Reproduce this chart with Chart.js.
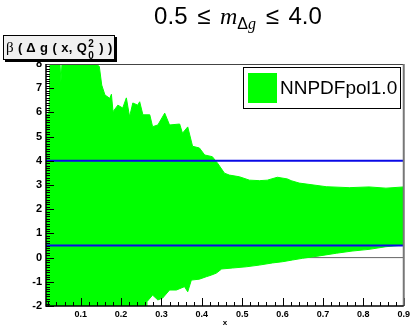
<!DOCTYPE html>
<html>
<head>
<meta charset="utf-8">
<script src="https://cdn.jsdelivr.net/npm/chart.js@4"></script>
<style>
  body { margin: 0; background: #fff; }
  #wrap { position: relative; width: 413px; height: 328px; }
  #title {
    position: absolute; left: 238px; top: 2px; transform: translateX(-50%);
    font: 24px "Liberation Sans", Arial, sans-serif; white-space: nowrap; color: #000;
    word-spacing: 3px;
  }
  #title i { font-family: "Liberation Serif", serif; }
  #title sub { font-size: 16px; vertical-align: -5px; line-height: 0; }
  #ylab {
    position: absolute; left: 3px; top: 35px; width: 112px; height: 25px;
    background: #f0f0f0; border: 1px solid #000; box-shadow: 2px 2px 0 #000;
    font: bold 13px "Liberation Sans", Arial, sans-serif; white-space: nowrap;
    line-height: 22px; padding-left: 2px; box-sizing: border-box; letter-spacing: 0.4px;
    overflow: hidden;
  }
  #ylab .b { font-weight: normal; font-family: "Liberation Serif", serif; font-size: 15px; }
  #ylab .ss { position: relative; display: inline-block; width: 8px; }
  #ylab .ss span { position: absolute; left: 1px; font-size: 10px; line-height: 10px; }
</style>
</head>
<body>
<div id="wrap">
  <canvas id="chart" width="413" height="328"></canvas>
  <div id="title">0.5 &le; <i>m</i><sub>&Delta;<i>g</i></sub> &le; 4.0</div>
  <div id="ylab"><span class="b">&beta;</span> ( &Delta; g ( x, Q<span class="ss"><span style="top:-13px">2</span><span style="top:-1px">0</span></span> ) )</div>
</div>
<script>
// axis ranges
const xMin = 0.014, xMax = 0.9;
const yMin = -2, yMax = 8;

// upper edge of the NNPDFpol1.0 band (clipped at 8 on the left)
const upperX = [0.014, 0.0215, 0.024, 0.0486, 0.051, 0.0536, 0.1375, 0.146, 0.152, 0.16,
  0.172, 0.176, 0.18, 0.192, 0.204, 0.213, 0.221, 0.229, 0.241, 0.246,
  0.254, 0.271, 0.278, 0.291, 0.308, 0.320, 0.345, 0.352, 0.365, 0.377,
  0.394, 0.407, 0.426, 0.439, 0.456, 0.468, 0.493, 0.518, 0.543, 0.562,
  0.587, 0.612, 0.621, 0.641, 0.708, 0.765, 0.814, 0.856, 0.9];
const upperY = [5.9, 5.95, 8, 8, 7.27, 8, 8, 7.9, 7.13, 6.72,
  6.58, 6.75, 6.03, 6.3, 6.18, 6.6, 5.82, 6.39, 6.3, 6.44,
  5.9, 5.9, 5.41, 5.48, 5.97, 5.48, 5.52, 5.14, 5.4, 4.6,
  4.53, 4.24, 4.17, 3.9, 3.49, 3.41, 3.34, 3.2, 3.18, 3.2,
  3.32, 3.25, 3.18, 3.08, 2.93, 2.89, 2.92, 2.87, 2.92];

// lower edge of the band (clipped at -2 on the left)
const lowerX = [0.014, 0.263, 0.264, 0.278, 0.291, 0.303, 0.320, 0.337, 0.357, 0.365,
  0.374, 0.394, 0.411, 0.424, 0.436, 0.449, 0.476, 0.510, 0.542, 0.575,
  0.600, 0.624, 0.649, 0.691, 0.733, 0.772, 0.814, 0.856, 0.9];
const lowerY = [-2, -2, -1.82, -1.55, -1.75, -1.67, -1.34, -1.34, -1.2, -1.41,
  -0.93, -0.89, -0.79, -0.72, -0.64, -0.47, -0.43, -0.38, -0.31, -0.22,
  -0.17, -0.1, -0.03, 0.07, 0.18, 0.27, 0.34, 0.45, 0.52];

const bandLabel = 'NNPDFpol1.0';
const hLines = [4, 0.5];
const xTicks = [0.1, 0.2, 0.3, 0.4, 0.5, 0.6, 0.7, 0.8, 0.9];
const yTicks = [-2, -1, 0, 1, 2, 3, 4, 5, 6, 7, 8];

const green = '#00ff00';
const toPts = (xs, ys) => xs.map((x, i) => ({ x: x, y: ys[i] }));
const flat = v => [{ x: xMin, y: v }, { x: xMax, y: v }];

// inward ROOT-style ticks, frame and legend box
const frame = {
  id: 'frame',
  afterDatasetsDraw(chart) {
    const { ctx, chartArea: a, scales: { x, y } } = chart;
    ctx.save();
    ctx.strokeStyle = '#000';
    ctx.lineWidth = 1;
    ctx.beginPath();
    for (let i = yMin * 10; i <= yMax * 10; i++) {
      const py = Math.round(y.getPixelForValue(i / 10)) + 0.5;
      const len = i % 10 === 0 ? 8 : 4;
      ctx.moveTo(a.left, py); ctx.lineTo(a.left + len, py);
    }
    for (let i = 1; i <= 45; i++) {
      const px = Math.round(x.getPixelForValue(i / 50)) + 0.5;
      const len = i % 5 === 0 ? 8 : 4;
      ctx.moveTo(px, a.bottom); ctx.lineTo(px, a.bottom - len);
    }
    ctx.stroke();

    // top + right edges
    ctx.strokeStyle = '#444';
    ctx.beginPath();
    ctx.moveTo(a.left, a.top + 0.5); ctx.lineTo(a.right, a.top + 0.5);
    ctx.stroke();
    ctx.strokeStyle = '#777';
    ctx.lineWidth = 2;
    ctx.beginPath();
    ctx.moveTo(a.right, a.top); ctx.lineTo(a.right, a.bottom);
    ctx.stroke();
    // left + bottom axes
    ctx.strokeStyle = '#000';
    ctx.lineWidth = 1.5;
    ctx.beginPath();
    ctx.moveTo(a.left, a.top); ctx.lineTo(a.left, a.bottom); ctx.lineTo(a.right, a.bottom);
    ctx.stroke();

    // legend
    ctx.fillStyle = '#fff';
    ctx.fillRect(243, 67, 157, 41);
    ctx.strokeStyle = '#000';
    ctx.lineWidth = 1;
    ctx.strokeRect(243.5, 67.5, 157, 41);
    ctx.fillStyle = green;
    ctx.fillRect(248, 73, 29, 30);
    ctx.fillStyle = '#000';
    ctx.font = '19px "Liberation Sans", Arial, sans-serif';
    ctx.textBaseline = 'middle';
    ctx.fillText(chart.data.datasets[0].label, 280, 89);
    ctx.restore();
  }
};

new Chart(document.getElementById('chart'), {
  type: 'line',
  data: {
    datasets: [
      { label: bandLabel, data: toPts(upperX, upperY), borderColor: green, backgroundColor: green,
        borderWidth: 1, pointRadius: 0, tension: 0, fill: { target: 1 }, order: 1 },
      { label: 'lower', data: toPts(lowerX, lowerY), borderColor: green, borderWidth: 1,
        pointRadius: 0, tension: 0, fill: false, order: 2 },
      { label: 'zero', data: flat(0), borderColor: '#666', borderWidth: 1, pointRadius: 0, order: 3 },
      { label: 'l1', data: flat(hLines[0]), borderColor: '#0a0ae6', borderWidth: 2, pointRadius: 0, order: 0 },
      { label: 'l2', data: flat(hLines[1]), borderColor: '#0a0ae6', borderWidth: 2, pointRadius: 0, order: 0 }
    ]
  },
  options: {
    responsive: false,
    animation: false,
    layout: { padding: { top: 64, right: 9, left: 0, bottom: 0 } },
    plugins: { legend: { display: false }, tooltip: { enabled: false } },
    scales: {
      x: {
        type: 'linear', min: xMin, max: xMax,
        afterBuildTicks: s => { s.ticks = xTicks.map(v => ({ value: v })); },
        afterFit: s => { s.height = 22; },
        grid: { display: false, drawTicks: false }, border: { display: false },
        ticks: { color: '#000', font: { family: 'Liberation Sans', weight: 'bold', size: 9 },
                 padding: 3, maxRotation: 0, autoSkip: false, callback: v => v.toFixed(1) },
        title: { display: true, text: 'x', color: '#000', padding: 0,
                 font: { family: 'Liberation Sans', weight: 'bold', size: 8 } }
      },
      y: {
        min: yMin, max: yMax,
        afterBuildTicks: s => { s.ticks = yTicks.map(v => ({ value: v })); },
        afterFit: s => { s.width = 46; },
        grid: { display: false, drawTicks: false }, border: { display: false },
        ticks: { color: '#000', font: { family: 'Liberation Sans', weight: 'bold', size: 11 }, padding: 4 }
      }
    }
  },
  plugins: [frame]
});
</script>
</body>
</html>
